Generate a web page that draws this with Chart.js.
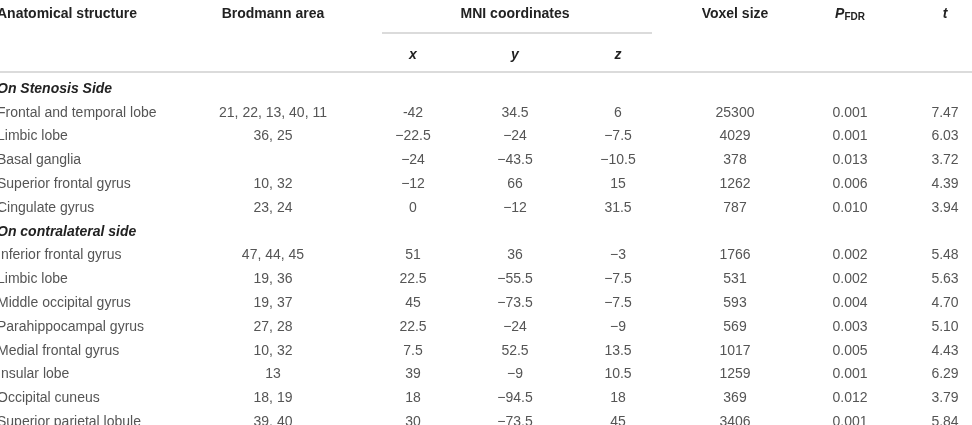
<!DOCTYPE html>
<html>
<head>
<meta charset="utf-8">
<script src="https://cdn.jsdelivr.net/npm/chart.js"></script>
<style>
  html, body { margin: 0; padding: 0; background: #fff; }
  canvas { display: block; }
</style>
</head>
<body>
<canvas id="tableChart" width="972" height="425"></canvas>
<script>
// Table contents, one array per column (section rows are empty in the value columns)
const structures = [
    'On Stenosis Side',
    'Frontal and temporal lobe', 'Limbic lobe', 'Basal ganglia', 'Superior frontal gyrus', 'Cingulate gyrus',
    'On contralateral side',
    'Inferior frontal gyrus', 'Limbic lobe', 'Middle occipital gyrus', 'Parahippocampal gyrus',
    'Medial frontal gyrus', 'Insular lobe', 'Occipital cuneus', 'Superior parietal lobule'
];
const sectionRows = [0, 6];
const brodmann = ['', '21, 22, 13, 40, 11', '36, 25', '', '10, 32', '23, 24', '',
    '47, 44, 45', '19, 36', '19, 37', '27, 28', '10, 32', '13', '18, 19', '39, 40'];
const mniX = ['', '-42', '\u221222.5', '\u221224', '\u221212', '0', '',
    '51', '22.5', '45', '22.5', '7.5', '39', '18', '30'];
const mniY = ['', '34.5', '\u221224', '\u221243.5', '66', '\u221212', '',
    '36', '\u221255.5', '\u221273.5', '\u221224', '52.5', '\u22129', '\u221294.5', '\u221273.5'];
const mniZ = ['', '6', '\u22127.5', '\u221210.5', '15', '31.5', '',
    '\u22123', '\u22127.5', '\u22127.5', '\u22129', '13.5', '10.5', '18', '45'];
const voxels = ['', '25300', '4029', '378', '1262', '787', '',
    '1766', '531', '593', '569', '1017', '1259', '369', '3406'];
const pFdr = ['', '0.001', '0.001', '0.013', '0.006', '0.010', '',
    '0.002', '0.002', '0.004', '0.003', '0.005', '0.001', '0.012', '0.001'];
const tValues = ['', '7.47', '6.03', '3.72', '4.39', '3.94', '',
    '5.48', '5.63', '4.70', '5.10', '4.43', '6.29', '3.79', '5.84'];

const columns = [structures, brodmann, mniX, mniY, mniZ, voxels, pFdr, tValues];

// Layout: column anchors on the x scale, header rows on the y scale
const colX = [-3, 273, 413, 515, 618, 735, 850, 945];
const colAlign = ['left', 'center', 'center', 'center', 'center', 'center', 'center', 'center'];
const HEADER_ROW = -3.151;
const SUBHEADER_ROW = -1.429;
const RULE_MNI = -2.353;
const RULE_HEAD = -0.714;

const FONT = '"Liberation Sans", Arial, sans-serif';
const BODY_COLOR = '#555';
const HEAD_COLOR = '#222';
const RULE_COLOR = '#cfcfcf';

const tablePlugin = {
    id: 'tableText',
    afterDatasetsDraw(chart) {
        const ctx = chart.ctx;
        const xs = chart.scales.x;
        const ys = chart.scales.y;
        ctx.save();
        ctx.textBaseline = 'middle';

        // rules
        ctx.strokeStyle = RULE_COLOR;
        ctx.lineWidth = 1.5;
        ctx.beginPath();
        ctx.moveTo(xs.getPixelForValue(382), ys.getPixelForValue(RULE_MNI));
        ctx.lineTo(xs.getPixelForValue(652), ys.getPixelForValue(RULE_MNI));
        ctx.moveTo(xs.getPixelForValue(0), ys.getPixelForValue(RULE_HEAD));
        ctx.lineTo(xs.getPixelForValue(972), ys.getPixelForValue(RULE_HEAD));
        ctx.stroke();

        // header row
        const hy = ys.getPixelForValue(HEADER_ROW);
        ctx.fillStyle = HEAD_COLOR;
        ctx.font = 'bold 14px ' + FONT;
        ctx.textAlign = 'left';
        ctx.fillText('Anatomical structure', xs.getPixelForValue(colX[0]), hy);
        ctx.textAlign = 'center';
        ctx.fillText('Brodmann area', xs.getPixelForValue(colX[1]), hy);
        ctx.fillText('MNI coordinates', xs.getPixelForValue(colX[3]), hy);
        ctx.fillText('Voxel size', xs.getPixelForValue(colX[5]), hy);

        // P with FDR subscript
        ctx.textAlign = 'left';
        ctx.font = 'italic bold 14px ' + FONT;
        const wP = ctx.measureText('P').width;
        ctx.font = 'bold 10px ' + FONT;
        const wSub = ctx.measureText('FDR').width;
        const px = xs.getPixelForValue(colX[6]) - (wP + wSub) / 2;
        ctx.font = 'italic bold 14px ' + FONT;
        ctx.fillText('P', px, hy);
        ctx.font = 'bold 10px ' + FONT;
        ctx.fillText('FDR', px + wP, hy + 3);

        ctx.textAlign = 'center';
        ctx.font = 'italic bold 14px ' + FONT;
        ctx.fillText('t', xs.getPixelForValue(colX[7]), hy);

        // sub header x / y / z
        const sy = ys.getPixelForValue(SUBHEADER_ROW);
        ['x', 'y', 'z'].forEach((s, k) => {
            ctx.fillText(s, xs.getPixelForValue(colX[2 + k]), sy);
        });

        // cells, positioned by the dataset points
        columns.forEach((col, j) => {
            const meta = chart.getDatasetMeta(j);
            meta.data.forEach((pt, i) => {
                const txt = col[i];
                if (!txt) return;
                if (sectionRows.includes(i)) {
                    ctx.font = 'italic bold 14px ' + FONT;
                    ctx.fillStyle = HEAD_COLOR;
                } else {
                    ctx.font = '14px ' + FONT;
                    ctx.fillStyle = BODY_COLOR;
                }
                ctx.textAlign = colAlign[j];
                ctx.fillText(txt, pt.x, pt.y);
            });
        });
        ctx.restore();
    }
};

new Chart(document.getElementById('tableChart'), {
    type: 'scatter',
    data: {
        datasets: columns.map((col, j) => ({
            label: 'col' + j,
            data: col.map((v, i) => ({ x: colX[j], y: i })),
            pointRadius: 0,
            pointHoverRadius: 0
        }))
    },
    options: {
        responsive: false,
        animation: false,
        devicePixelRatio: 1,
        layout: { padding: 0 },
        events: [],
        scales: {
            x: { type: 'linear', min: 0, max: 972, display: false },
            y: { type: 'linear', min: -3.739, max: 14.118, reverse: true, display: false }
        },
        plugins: {
            legend: { display: false },
            tooltip: { enabled: false }
        }
    },
    plugins: [tablePlugin]
});
</script>
</body>
</html>
